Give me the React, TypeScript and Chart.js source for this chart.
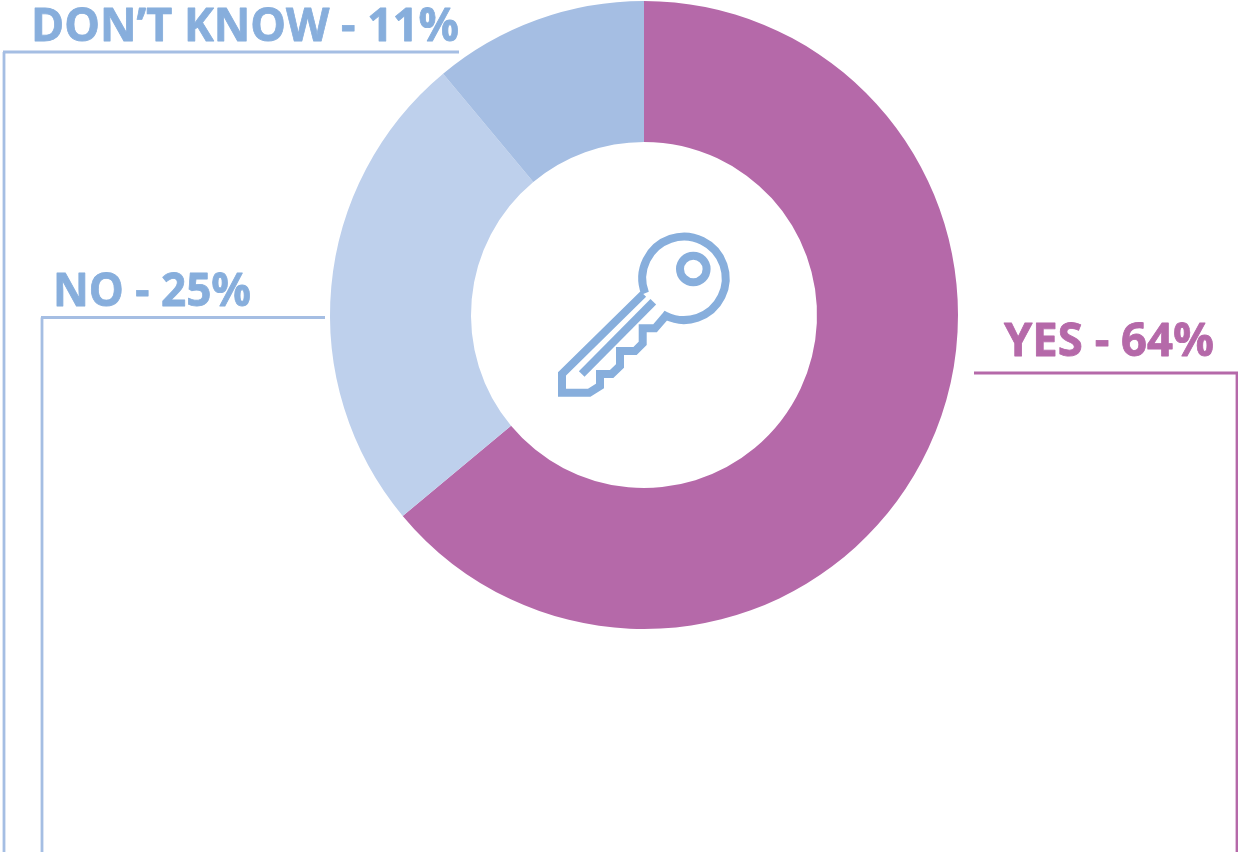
import React, { useEffect, useRef } from "react";
import { Chart, registerables } from "chart.js";

Chart.register(...registerables);

const categories = ["YES", "NO", "DON\u2019T KNOW"];
const shares = [64, 25, 11];
const sliceValues = [63.95, 25, 11.05];
const sliceColors = ["#B569A9", "#BED0EC", "#A5BEE3"];
const textColors = ["#B569A9", "#87AEDC", "#87AEDC"];
const lineColors = ["#B569A9", "#A5BEE3", "#A5BEE3"];

const labelLeft = [1004, 53, 31];
const labelBaseline = [356, 306, 41];
const labelWidth = [210, 198, 428];
// [x1, y, x2, verticalX] of each leader
const leaders = [
  [974, 373, 1238, 1237],
  [325, 317.5, 41, 42],
  [459, 52, 3, 4],
];

const annotations = {
  id: "annotations",
  afterDraw(chart: any) {
    const ctx = chart.ctx as CanvasRenderingContext2D;
    ctx.save();
    categories.forEach((c, i) => {
      const text = `${c} - ${shares[i]}%`;
      ctx.font = 'bold 46px "Open Sans"';
      ctx.textBaseline = "alphabetic";
      ctx.textAlign = "left";
      ctx.fillStyle = textColors[i];
      ctx.strokeStyle = textColors[i];
      ctx.lineWidth = 0.8;
      ctx.lineJoin = "round";
      const w = ctx.measureText(text).width;
      ctx.save();
      ctx.translate(labelLeft[i], labelBaseline[i]);
      ctx.scale(labelWidth[i] / w, 1);
      ctx.fillText(text, 0, 0);
      ctx.strokeText(text, 0, 0);
      ctx.restore();

      const [x1, y, x2, vx] = leaders[i];
      ctx.strokeStyle = lineColors[i];
      ctx.lineWidth = 2.8;
      ctx.beginPath();
      ctx.moveTo(x1, y);
      ctx.lineTo(x2, y);
      ctx.moveTo(vx, y);
      ctx.lineTo(vx, 852);
      ctx.stroke();
    });

    // key icon
    ctx.strokeStyle = "#87AEDC";
    ctx.lineWidth = 8;
    ctx.lineJoin = "miter";
    ctx.lineCap = "butt";
    const cx = 684;
    const cy = 278.3;
    const r = 41.7;
    ctx.beginPath();
    ctx.arc(693.3, 269, 13.3, 0, Math.PI * 2);
    ctx.stroke();
    ctx.beginPath();
    const outline = [
      [643.3, 294], [562, 374], [562, 392.7], [589.3, 392.7], [600, 386],
      [600, 374], [611.7, 374], [620, 366], [620, 351], [635, 351],
      [642.7, 343.3], [642.7, 328.3], [655, 328.3], [665, 316.7],
    ];
    outline.forEach(([x, y], k) => (k ? ctx.lineTo(x, y) : ctx.moveTo(x, y)));
    ctx.arc(cx, cy, r, (116 * Math.PI) / 180, (159 * Math.PI) / 180, true);
    ctx.stroke();
    ctx.beginPath();
    ctx.moveTo(653.3, 301.7);
    ctx.lineTo(581.7, 374);
    ctx.stroke();
    ctx.restore();
  },
};

export default function App() {
  const ref = useRef<HTMLCanvasElement>(null);
  useEffect(() => {
    const chart = new Chart(ref.current!, {
      type: "doughnut",
      data: {
        labels: categories,
        datasets: [{ data: sliceValues, backgroundColor: sliceColors, borderWidth: 0 }],
      },
      options: {
        animation: false,
        responsive: false,
        cutout: "55.1%",
        layout: { padding: { left: 330, top: 1, right: 280, bottom: 223 } },
        plugins: { legend: { display: false }, tooltip: { enabled: false } },
      },
      plugins: [annotations],
    } as any);
    return () => chart.destroy();
  }, []);
  return (
    <canvas
      ref={ref}
      width={1238}
      height={852}
      style={{ position: "absolute", left: 0, top: 0, display: "block", background: "#fff" }}
    />
  );
}
